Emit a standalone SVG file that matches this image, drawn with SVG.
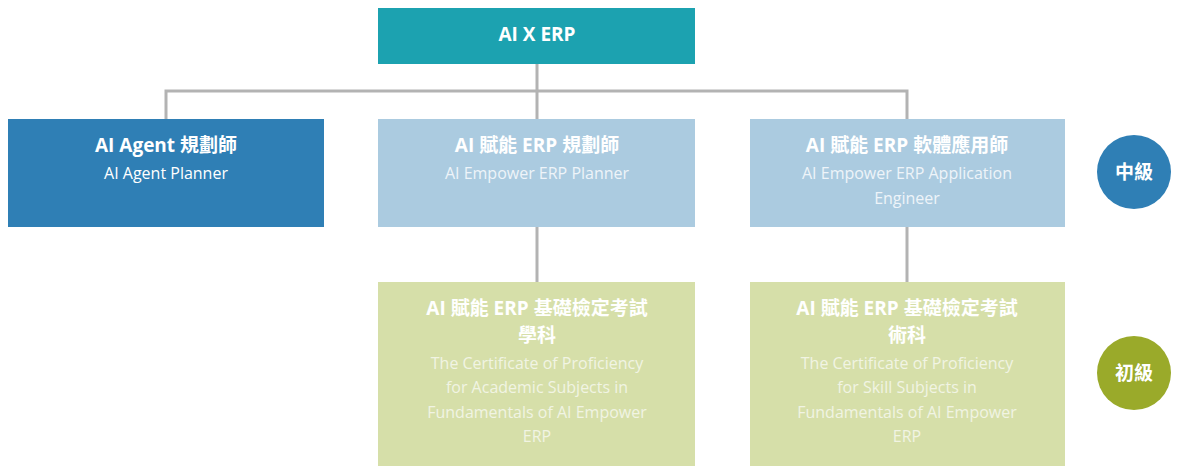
<svg xmlns="http://www.w3.org/2000/svg" width="1177" height="474" viewBox="0 0 1177 474">
<style>
text{font-family:"Open Sans","Noto Sans CJK TC",sans-serif;text-anchor:middle;fill:#fff}
.t{font-size:19px;font-weight:700}
.s{font-size:16px}
.lb .s{fill:#eef4f9}
.gr .s{fill:#f1f4e3}
.c{fill:none;stroke:#b3b3b3;stroke-width:3}
.circ{font-size:19px;font-weight:700}
</style>
<g id="connectors">
<path class="c" d="M537 64V91M166 119V91H907V119M537 91V119M537 227V282M907 227V282"/>
</g>
<g id="root"><rect x="378" y="8" width="317" height="56" fill="#1ca2b0"/><text class="t" x="537" y="41">AI X ERP</text></g>
<g id="agent"><rect x="8" y="119" width="316" height="108" fill="#2f7fb5"/><text class="t" x="166" y="152">AI Agent 規劃師</text><text class="s" x="166" y="179">AI Agent Planner</text></g>
<g id="planner" class="lb"><rect x="378" y="119" width="317" height="108" fill="#abcbe0"/><text class="t" x="537" y="152">AI 賦能 ERP 規劃師</text><text class="s" x="537" y="179">AI Empower ERP Planner</text></g>
<g id="engineer" class="lb"><rect x="750" y="119" width="315" height="108" fill="#abcbe0"/><text class="t" x="907" y="152">AI 賦能 ERP 軟體應用師</text><text class="s" x="907" y="179">AI Empower ERP Application</text><text class="s" x="907" y="204">Engineer</text></g>
<g id="academic" class="gr"><rect x="378" y="282" width="317" height="184" fill="#d6dfa9"/><text class="t" x="537" y="315">AI 賦能 ERP 基礎檢定考試</text><text class="t" x="537" y="342">學科</text><text class="s" x="537" y="369">The Certificate of Proficiency</text><text class="s" x="537" y="393">for Academic Subjects in</text><text class="s" x="537" y="418">Fundamentals of AI Empower</text><text class="s" x="537" y="442">ERP</text></g>
<g id="skill" class="gr"><rect x="750" y="282" width="315" height="184" fill="#d6dfa9"/><text class="t" x="907" y="315">AI 賦能 ERP 基礎檢定考試</text><text class="t" x="907" y="342">術科</text><text class="s" x="907" y="369">The Certificate of Proficiency</text><text class="s" x="907" y="393">for Skill Subjects in</text><text class="s" x="907" y="418">Fundamentals of AI Empower</text><text class="s" x="907" y="442">ERP</text></g>
<g id="mid"><circle cx="1134" cy="172" r="37" fill="#2f7fb5"/><text class="circ" x="1134" y="179">中級</text></g>
<g id="basic"><circle cx="1134" cy="373" r="37" fill="#9aaa2a"/><text class="circ" x="1134" y="380">初級</text></g>
</svg>
